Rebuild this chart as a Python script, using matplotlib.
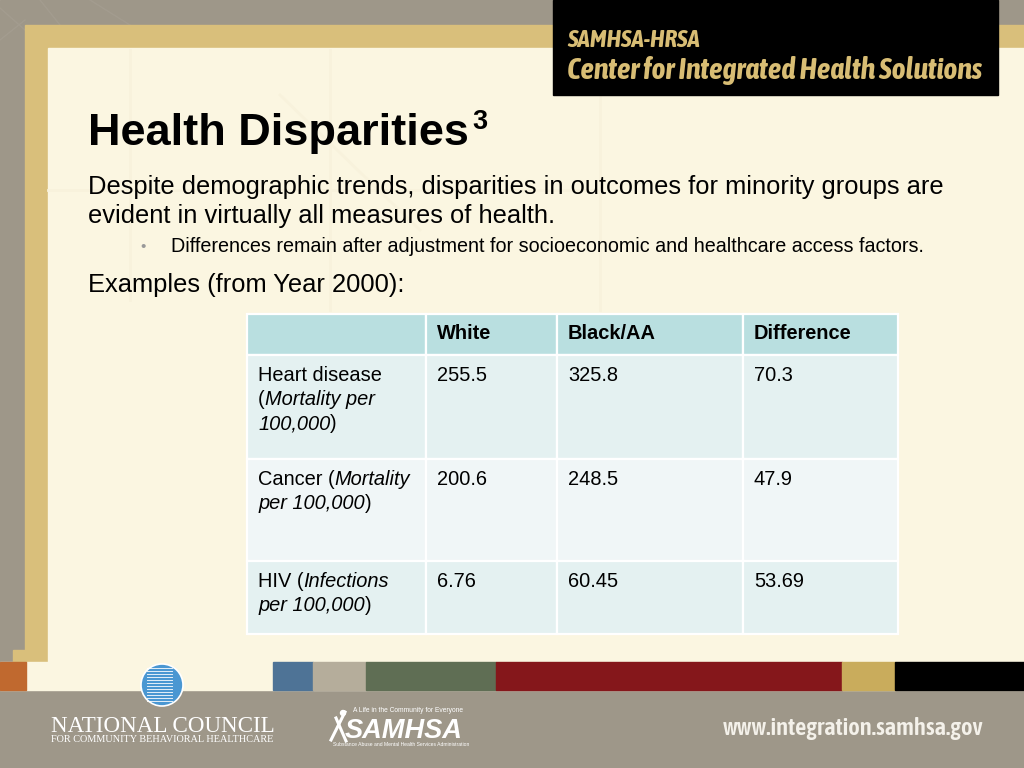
import matplotlib
matplotlib.use("Agg")
import matplotlib.pyplot as plt
from matplotlib import font_manager
from matplotlib.patches import Rectangle, Ellipse

# Slide text
title = "Health Disparities"
title_sup = "3"
intro_lines = ["Despite demographic trends, disparities in outcomes for minority groups are",
               "evident in virtually all measures of health."]
bullet = "Differences remain after adjustment for socioeconomic and healthcare access factors."
examples = "Examples (from Year 2000):"

# Table data
columns = ["", "White", "Black/AA", "Difference"]
row_labels = [
    [[("Heart disease", False)], [("(", False), ("Mortality per", True)], [("100,000", True), (")", False)]],
    [[("Cancer (", False), ("Mortality", True)], [("per 100,000", True), (")", False)]],
    [[("HIV (", False), ("Infections", True)], [("per 100,000", True), (")", False)]],
]
white = ["255.5", "200.6", "6.76"]
black_aa = ["325.8", "248.5", "60.45"]
difference = ["70.3", "47.9", "53.69"]

# Footer stripes
stripe_colors = ["#4e7396", "#b5ad9b", "#5f6e54", "#85171b", "#c9ac5c", "#000000"]
stripe_edges = [273, 313, 366, 496, 842, 895, 1024]

GRAY = "#9e9789"
GOLD = "#d9bf7b"
CREAM = "#fbf6e1"
FONT = "Liberation Sans"


def weight_of(f):
    w = f.weight
    return font_manager.weight_dict.get(w, 400) if isinstance(w, str) else w


# use a condensed (preferably bold) face for the logo lettering if one is installed
narrow_fonts = [f for f in font_manager.fontManager.ttflist
                if "Condensed" in f.name or "Narrow" in f.name]
bold_narrow = sorted({f.name for f in narrow_fonts if weight_of(f) >= 600})
any_narrow = sorted({f.name for f in narrow_fonts})
logo_font = (bold_narrow or any_narrow)[:1] + [FONT]

fig = plt.figure(figsize=(10.24, 7.68), dpi=100)
ax = fig.add_axes([0, 0, 1, 1])
ax.set_xlim(0, 1024)
ax.set_ylim(768, 0)
ax.axis("off")
renderer = fig.canvas.get_renderer()


def fit_text(x, y, s, width, size, **kw):
    # shrink/grow the font so the string spans the given pixel width
    t = ax.text(x, y, s, fontsize=size, va="baseline", **kw)
    w = t.get_window_extent(renderer).width
    t.set_fontsize(size * width / w)
    return t


# background frame
ax.add_patch(Rectangle((0, 0), 1024, 768, color=GRAY, zorder=0))
ax.add_patch(Rectangle((25, 25), 999, 640, color=GOLD, zorder=1))
ax.add_patch(Rectangle((48, 48), 976, 617, color=CREAM, zorder=2))
ax.add_patch(Rectangle((0, 662), 1024, 28, color=CREAM, zorder=2))
ax.add_patch(Rectangle((13, 650), 13, 12, color=GOLD, zorder=2))
ax.add_patch(Rectangle((0, 662), 26, 28, color="#c0692f", zorder=3))
for i, c in enumerate(stripe_colors):
    ax.add_patch(Rectangle((stripe_edges[i], 662), stripe_edges[i + 1] - stripe_edges[i], 28,
                           color=c, zorder=3))

# faint background lines
for (x0, y0, x1, y1) in [(130, 50, 130, 300), (330, 50, 330, 310), (600, 95, 600, 310),
                         (330, 190, 600, 190), (48, 190, 330, 190), (280, 95, 420, 230)]:
    ax.plot([x0, x1], [y0, y1], color="#f8f2dc", lw=2, zorder=2.5)
for (x0, y0, x1, y1) in [(0, 8, 25, 30), (0, 40, 25, 20), (40, 0, 60, 25), (90, 0, 130, 25)]:
    ax.plot([x0, x1], [y0, y1], color="#a39c8f", lw=1, zorder=0.5)

# header logo
ax.add_patch(Rectangle((553, 0), 445, 95, color="black", zorder=4))
fit_text(567, 47, "SAMHSA-HRSA", 133, 17, family=logo_font, weight="bold", style="italic",
         color="#d8bd74", zorder=5)
fit_text(567, 79, "Center for Integrated Health Solutions", 416, 24, family=logo_font,
         weight="bold", style="italic", color="#d8bd74", zorder=5)


def draw_runs(x, y, runs, size, color="black", weight="normal"):
    for txt, ital in runs:
        t = ax.text(x, y, txt, family=FONT, fontsize=size, color=color, weight=weight,
                    style="italic" if ital else "normal", va="baseline", zorder=6)
        x += t.get_window_extent(renderer).width


# title and body
t = ax.text(88, 145, title, family=FONT, weight="bold", fontsize=32.5, va="baseline", zorder=6)
w = t.get_window_extent(renderer).width
ax.text(88 + w + 3, 129, title_sup, family=FONT, weight="bold", fontsize=19.5, va="baseline", zorder=6)
ax.text(88, 194, intro_lines[0], family=FONT, fontsize=18.4, va="baseline", zorder=6)
ax.text(88, 223, intro_lines[1], family=FONT, fontsize=18.4, va="baseline", zorder=6)
ax.text(140, 251, "\u2022", family=FONT, fontsize=11, color="#999999", va="baseline", zorder=6)
ax.text(171, 252, bullet, family=FONT, fontsize=14.25, va="baseline", zorder=6)
ax.text(88, 292, examples, family=FONT, fontsize=18.4, va="baseline", zorder=6)

# table
col_edges = [247, 426, 557, 743, 898]
row_edges = [314, 355, 459, 561, 634]
row_fill = ["#b9dfe0", "#e4f1f1", "#f0f6f7", "#e4f1f1"]
for r in range(4):
    for c in range(4):
        ax.add_patch(Rectangle((col_edges[c], row_edges[r]), col_edges[c + 1] - col_edges[c],
                               row_edges[r + 1] - row_edges[r], facecolor=row_fill[r],
                               edgecolor="white", lw=1.6, zorder=5))

cell_size = 14.4
for c, name in enumerate(columns):
    if name:
        ax.text(col_edges[c] + 11, 339, name, family=FONT, weight="bold", fontsize=cell_size,
                va="baseline", zorder=6)

line_h = 24
for r in range(3):
    base = row_edges[r + 1] + 26
    for k, runs in enumerate(row_labels[r]):
        draw_runs(col_edges[0] + 11, base + k * line_h, runs, cell_size)
    for c, vals in enumerate([white, black_aa, difference]):
        ax.text(col_edges[c + 1] + 11, base, vals[r], family=FONT, fontsize=cell_size,
                va="baseline", zorder=6)

# footer logos
ax.add_patch(Ellipse((162, 685), 42, 42, facecolor="#4a97d2", edgecolor="white", lw=1.2, zorder=6))
for yy in range(668, 704, 3):
    ax.plot([147, 172], [yy, yy], color="white", lw=0.7, alpha=0.85, zorder=7)
fit_text(51, 732, "NATIONAL COUNCIL", 223, 16.5, family="Liberation Serif", color="white", zorder=6)
fit_text(51, 742, "FOR COMMUNITY BEHAVIORAL HEALTHCARE", 223, 7.3, family="Liberation Serif",
         color="white", zorder=6)

fit_text(353, 712, "A Life in the Community for Everyone", 111, 4.3, family=FONT, color="white",
         zorder=6)
fit_text(345, 738, "SAMHSA", 118, 20, family=FONT, weight="bold", style="italic",
         color="white", zorder=6)
fit_text(333, 746, "Substance Abuse and Mental Health Services Administration", 131, 3.2,
         family=FONT, color="white", zorder=6)
ax.plot([331, 345], [740, 712], color="white", lw=2.2, zorder=6)
ax.plot([336, 346], [718, 741], color="white", lw=2.2, zorder=6)
ax.add_patch(Ellipse((343, 713), 5, 5, color="white", zorder=6))

fit_text(723, 735, "www.integration.samhsa.gov", 262, 16, family=logo_font, weight="semibold",
         color="#f4f1ea", zorder=6)

fig.savefig("out.png", dpi=100)
